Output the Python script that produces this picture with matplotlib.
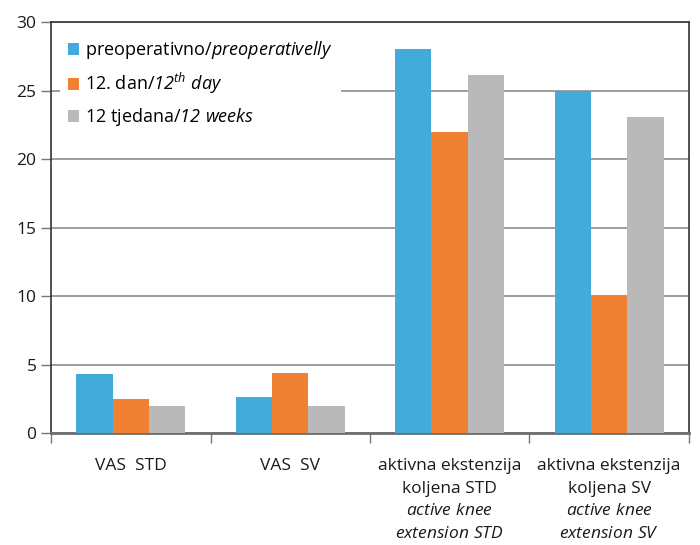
import numpy as np
import matplotlib
matplotlib.use('Agg')
import matplotlib.pyplot as plt
from matplotlib.patches import Patch

plt.rcParams['font.family'] = ['Open Sans', 'DejaVu Sans']
# every math part in this chart is italic text, digits included
plt.rcParams['mathtext.fontset'] = 'custom'
plt.rcParams['mathtext.rm'] = 'Open Sans:italic'
plt.rcParams['mathtext.it'] = 'Open Sans:italic'

categories = [
    "VAS  STD",
    "VAS  SV",
    "aktivna ekstenzija\nkoljena STD\n$\\mathit{active\\ knee}$\n$\\mathit{extension\\ STD}$",
    "aktivna ekstenzija\nkoljena SV\n$\\mathit{active\\ knee}$\n$\\mathit{extension\\ SV}$",
]
preop = [4.3, 2.6, 28.0, 25.0]
day12 = [2.5, 4.4, 22.0, 10.1]
weeks12 = [2.0, 2.0, 26.1, 23.1]

series_labels = [
    "preoperativno/$\\mathit{preoperativelly}$",
    "12. dan/$\\mathit{12^{th}\\ day}$",
    "12 tjedana/$\\mathit{12\\ weeks}$",
]
colors = ['#42abdc', '#f08132', '#b9b9b9']

fig = plt.figure(figsize=(7, 5.45), dpi=100)
ax = fig.add_axes([0.073, 0.2055, 0.911, 0.754])

x = np.arange(len(categories))
w = 0.228
for i, (vals, c) in enumerate(zip([preop, day12, weeks12], colors)):
    ax.bar(x + (i - 1) * w, vals, width=w, color=c, zorder=3)

ax.set_xlim(-0.5, len(categories) - 0.5)
ax.set_ylim(0, 30)
ax.set_yticks(range(0, 31, 5))
ax.yaxis.grid(True, color='#8c8c8c', linewidth=1.2, zorder=0)
ax.set_axisbelow(True)

# category separator ticks
ax.set_xticks(np.arange(-0.5, len(categories), 1.0))
ax.set_xticklabels([])
ax.set_xticks(x, minor=True)
ax.set_xticklabels(categories, minor=True, fontsize=12.5, color='#1a1a1a', linespacing=1.55)
ax.tick_params(axis='x', which='major', length=7, width=1, color='#777777')
ax.tick_params(axis='x', which='minor', length=0, pad=18)
ax.tick_params(axis='y', length=7, width=1, color='#777777', labelsize=12.5, labelcolor='#1a1a1a')

for s in ['left', 'top', 'right']:
    ax.spines[s].set_color('#333333')
    ax.spines[s].set_linewidth(1.2)
ax.spines['bottom'].set_color('#6e6e6e')
ax.spines['bottom'].set_linewidth(2)

handles = [Patch(facecolor=c, edgecolor='none') for c in colors]
leg = ax.legend(handles, series_labels, loc='upper left', bbox_to_anchor=(0.0, 1.0),
                frameon=True, fancybox=False, edgecolor='none', framealpha=1,
                fontsize=13, handlelength=0.6, handleheight=0.6, handletextpad=0.35,
                labelspacing=0.55, borderpad=0.45)
leg.set_zorder(5)

fig.savefig('out.png', dpi=100)
